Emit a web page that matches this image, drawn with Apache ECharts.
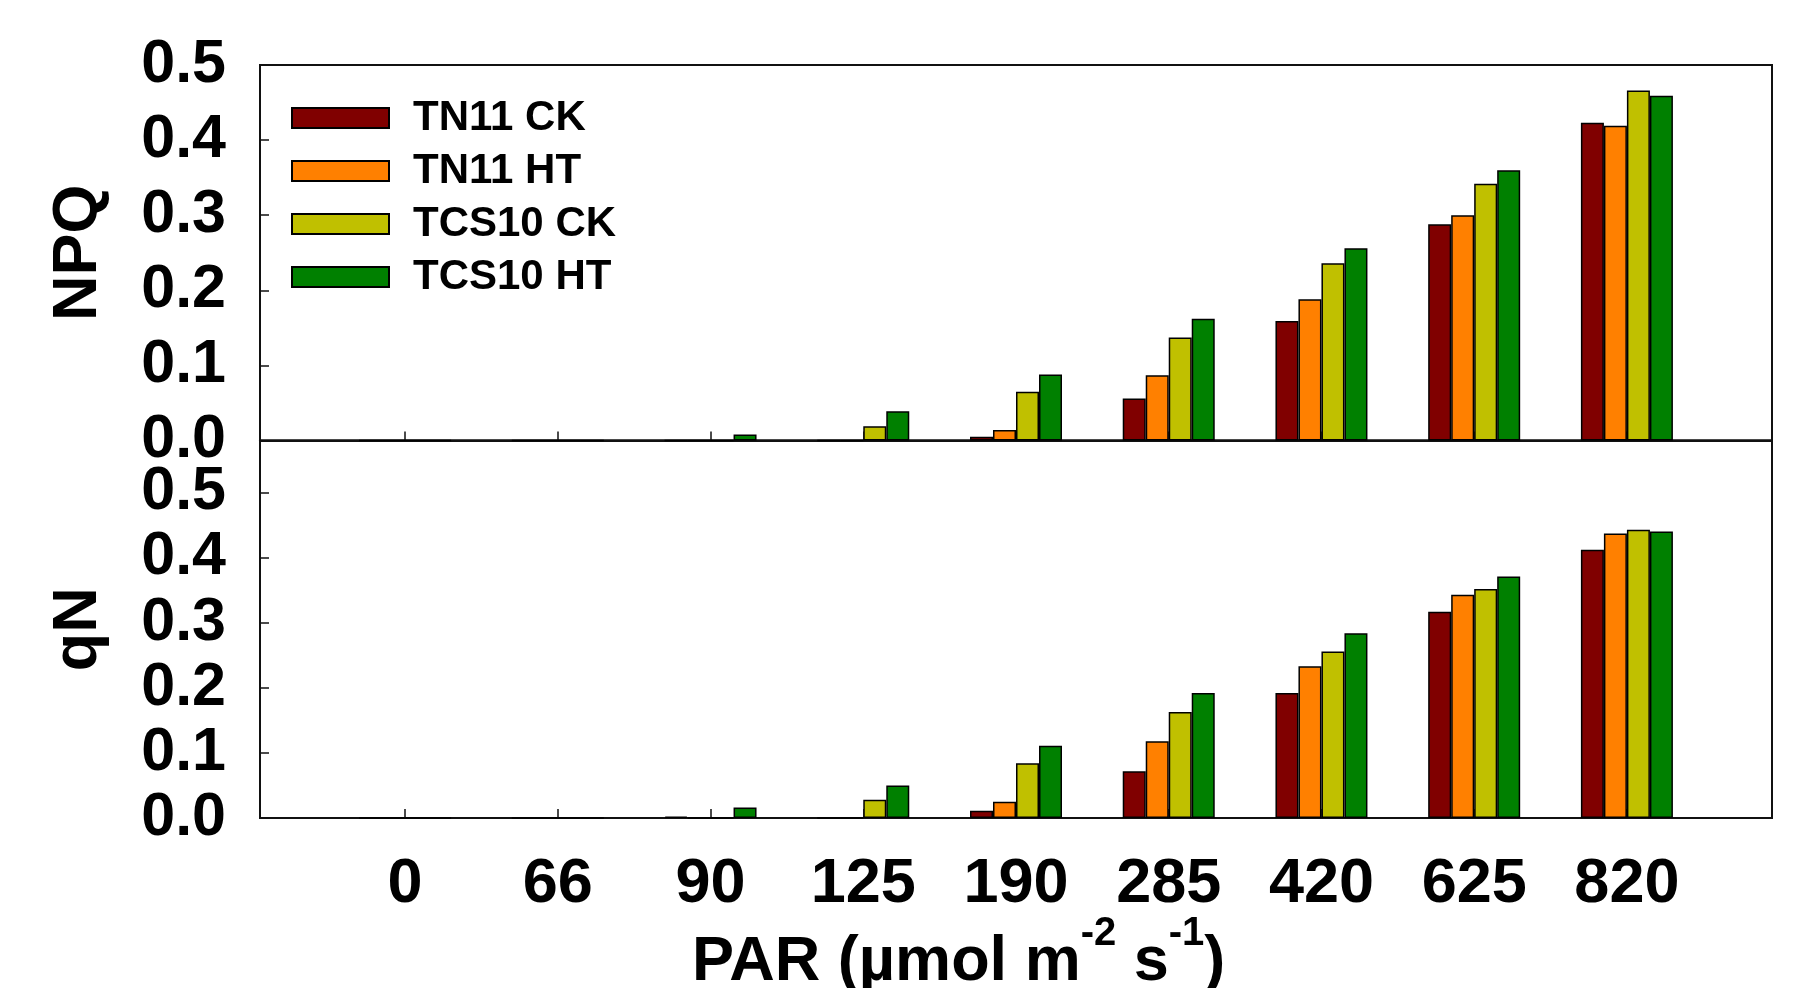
<!DOCTYPE html>
<html>
<head>
<meta charset="utf-8">
<script src="https://cdn.jsdelivr.net/npm/echarts@6/dist/echarts.min.js"></script>
<style>
  html, body { margin: 0; padding: 0; background: #fff; }
  #chart { width: 1803px; height: 988px; }
</style>
</head>
<body>
<div id="chart"></div>
<script>
// PAR levels (umol m-2 s-1)
const parLabels = ['0', '66', '90', '125', '190', '285', '420', '625', '820'];
const seriesNames = ['TN11 CK', 'TN11 HT', 'TCS10 CK', 'TCS10 HT'];

// NPQ
const npqTN11CK = [0, 0, 0, 0, 0.005, 0.056, 0.159, 0.288, 0.423];
const npqTN11HT = [0, 0, 0, 0, 0.014, 0.087, 0.188, 0.300, 0.419];
const npqTCS10CK = [0, 0, 0, 0.019, 0.065, 0.137, 0.236, 0.342, 0.466];
const npqTCS10HT = [0, 0, 0.008, 0.039, 0.088, 0.162, 0.256, 0.360, 0.459];

// qN
const qnTN11CK = [0, 0, 0.002, 0, 0.011, 0.072, 0.192, 0.317, 0.412];
const qnTN11HT = [0, 0, 0, 0, 0.025, 0.118, 0.233, 0.343, 0.437];
const qnTCS10CK = [0, 0, 0, 0.028, 0.084, 0.163, 0.256, 0.352, 0.443];
const qnTCS10HT = [0, 0, 0.016, 0.050, 0.111, 0.192, 0.284, 0.371, 0.440];

const colors = ['#800000', '#ff8000', '#c0c000', '#008000'];
const FONT = 'Liberation Sans, Arial, sans-serif';
const tickIdx = parLabels.map((_, i) => i);

const chart = echarts.init(document.getElementById('chart'), null, { renderer: 'canvas' });

function xAxisFor(gridIndex, showLabels) {
  return {
    type: 'value',
    gridIndex: gridIndex,
    min: -0.95,
    max: 8.95,
    splitLine: { show: false },
    axisLine: { show: true, onZero: false, lineStyle: { color: '#111', width: 2 } },
    axisTick: {
      show: true, inside: true, length: 9, customValues: tickIdx,
      lineStyle: { color: '#111', width: 1.5 }
    },
    axisLabel: {
      show: showLabels,
      customValues: tickIdx,
      formatter: v => parLabels[Math.round(v)] || '',
      fontFamily: FONT, fontWeight: 'bold', fontSize: 63, lineHeight: 63,
      color: '#000', margin: 35
    }
  };
}

function yAxisFor(gridIndex, max, name, showMax) {
  return {
    type: 'value',
    gridIndex: gridIndex,
    min: 0,
    max: max,
    interval: 0.1,
    name: name,
    nameLocation: 'middle',
    nameGap: 150,
    nameTextStyle: { fontFamily: FONT, fontWeight: 'bold', fontSize: 63, color: '#000' },
    splitLine: { show: false },
    axisLine: { show: true, onZero: false, lineStyle: { color: '#111', width: 2 } },
    axisTick: { show: true, inside: true, length: 9, lineStyle: { color: '#111', width: 1.5 } },
    axisLabel: {
      showMaxLabel: showMax,
      formatter: v => v.toFixed(1),
      fontFamily: FONT, fontWeight: 'bold', fontSize: 61, color: '#000', margin: 34
    }
  };
}

function barSeries(name, values, idx, axisIndex) {
  return {
    name: name,
    type: 'bar',
    xAxisIndex: axisIndex,
    yAxisIndex: axisIndex,
    barWidth: 23,
    barGap: '0%',
    itemStyle: { color: colors[idx], borderColor: '#000', borderWidth: 1.5 },
    data: values.map((v, i) => [i, v])
  };
}

const option = {
  animation: false,
  backgroundColor: '#fff',
  title: {
    text: '{a|PAR (µmol m}{sup|-2}{a| s}{sup|-1}{a|)}',
    left: 692,
    top: 914,
    padding: 0,
    textStyle: {
      rich: {
        a: { fontFamily: FONT, fontWeight: 'bold', fontSize: 63, color: '#000', lineHeight: 98 },
        sup: { fontFamily: FONT, fontWeight: 'bold', fontSize: 40, color: '#000', verticalAlign: 'top', lineHeight: 40 }
      }
    }
  },
  legend: {
    data: seriesNames,
    orient: 'vertical',
    left: 291,
    top: 97,
    padding: 0,
    icon: 'rect',
    itemWidth: 97,
    itemHeight: 20,
    itemGap: 11,
    textStyle: {
      fontFamily: FONT, fontWeight: 'bold', fontSize: 42, lineHeight: 42,
      color: '#000', padding: [0, 0, 0, 19]
    }
  },
  grid: [
    { left: 260, right: 31, top: 65, height: 375.5, show: true, borderColor: '#111', borderWidth: 2, outerBoundsMode: 'none' },
    { left: 260, right: 31, top: 440.5, height: 377.5, show: true, borderColor: '#111', borderWidth: 2, outerBoundsMode: 'none' }
  ],
  xAxis: [xAxisFor(0, false), xAxisFor(1, true)],
  yAxis: [yAxisFor(0, 0.5, 'NPQ', true), yAxisFor(1, 0.58, 'qN', false)],
  series: [
    barSeries(seriesNames[0], npqTN11CK, 0, 0),
    barSeries(seriesNames[1], npqTN11HT, 1, 0),
    barSeries(seriesNames[2], npqTCS10CK, 2, 0),
    barSeries(seriesNames[3], npqTCS10HT, 3, 0),
    barSeries(seriesNames[0], qnTN11CK, 0, 1),
    barSeries(seriesNames[1], qnTN11HT, 1, 1),
    barSeries(seriesNames[2], qnTCS10CK, 2, 1),
    barSeries(seriesNames[3], qnTCS10HT, 3, 1)
  ]
};

chart.setOption(option);
</script>
</body>
</html>
